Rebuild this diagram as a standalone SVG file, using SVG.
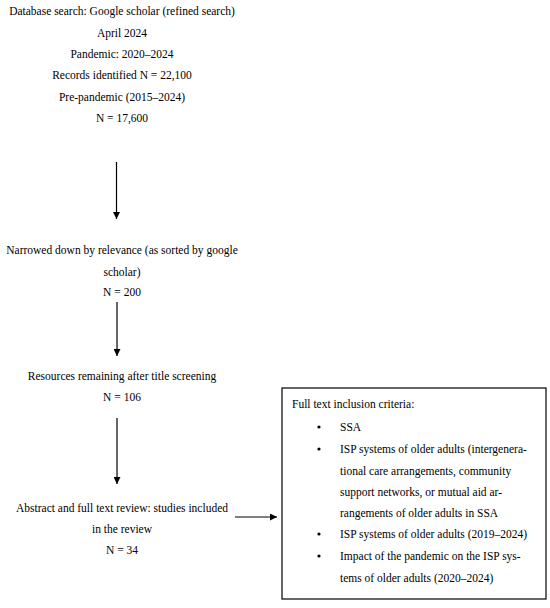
<svg xmlns="http://www.w3.org/2000/svg" width="550" height="608" viewBox="0 0 550 608">
<style>
text{font-family:"Liberation Serif","Times New Roman",serif;font-size:11.5px;fill:#000}
.c{text-anchor:middle}
.ln{stroke:#000;stroke-width:1.2;fill:none}
</style>
<defs>
<marker id="ah" viewBox="0 0 10 10" refX="10" refY="5" markerWidth="7" markerHeight="7" markerUnits="userSpaceOnUse" orient="auto"><path d="M0,0 L10,5 L0,10 Z" fill="#000"/></marker>
</defs>
<rect width="550" height="608" fill="#fff"/>
<g id="n1">
<text class="c" x="122" y="15">Database search: Google scholar (refined search)</text>
<text class="c" x="122" y="37">April 2024</text>
<text class="c" x="122" y="58">Pandemic: 2020–2024</text>
<text class="c" x="122" y="79">Records identified N = 22,100</text>
<text class="c" x="122" y="101">Pre-pandemic (2015–2024)</text>
<text class="c" x="122" y="122">N = 17,600</text>
</g>
<g id="n2">
<text class="c" x="122" y="254">Narrowed down by relevance (as sorted by google</text>
<text class="c" x="122" y="276">scholar)</text>
<text class="c" x="122" y="296">N = 200</text>
</g>
<g id="n3">
<text class="c" x="122" y="380">Resources remaining after title screening</text>
<text class="c" x="122" y="401">N = 106</text>
</g>
<g id="n4">
<text class="c" x="122" y="512">Abstract and full text review: studies included</text>
<text class="c" x="122" y="533">in the review</text>
<text class="c" x="122" y="554">N = 34</text>
</g>
<g id="n5">
<rect x="282" y="388" width="264" height="211" fill="none" stroke="#000" stroke-width="1.2"/>
<text x="292" y="408">Full text inclusion criteria:</text>
<g>
<circle cx="319" cy="427" r="1.6"/><text x="340" y="431">SSA</text>
<circle cx="319" cy="449" r="1.6"/><text x="340" y="453">ISP systems of older adults (intergenera-</text>
<text x="340" y="475">tional care arrangements, community</text>
<text x="340" y="496">support networks, or mutual aid ar-</text>
<text x="340" y="517">rangements of older adults in SSA</text>
<circle cx="319" cy="534" r="1.6"/><text x="340" y="538">ISP systems of older adults (2019–2024)</text>
<circle cx="319" cy="556" r="1.6"/><text x="340" y="560">Impact of the pandemic on the ISP sys-</text>
<text x="340" y="582">tems of older adults (2020–2024)</text>
</g>
</g>
<g id="connectors">
<line class="ln" x1="116.5" y1="162" x2="116.5" y2="219" marker-end="url(#ah)"/>
<line class="ln" x1="117" y1="302" x2="117" y2="356" marker-end="url(#ah)"/>
<line class="ln" x1="117" y1="418" x2="117" y2="484" marker-end="url(#ah)"/>
<line class="ln" x1="235" y1="517" x2="277" y2="517" marker-end="url(#ah)"/>
</g>
</svg>
